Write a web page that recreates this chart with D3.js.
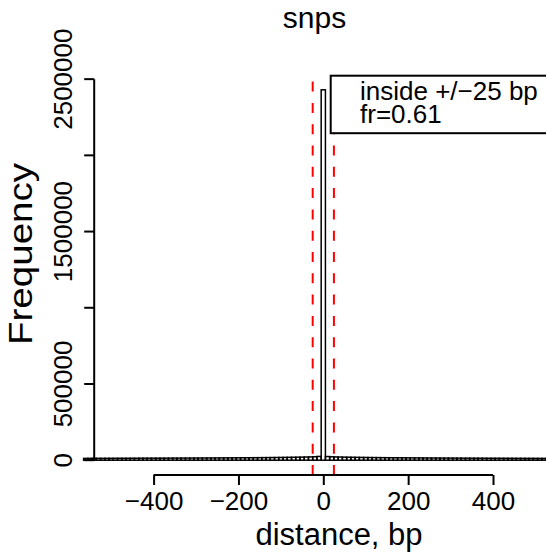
<!DOCTYPE html>
<html><head><meta charset="utf-8">
<script src="https://cdn.jsdelivr.net/npm/d3@7"></script>
<style>body{margin:0;background:#fff}text{font-family:"Liberation Sans",Arial,Helvetica,sans-serif;fill:#000}</style>
</head><body><svg id="c" width="546" height="559"></svg>
<script>
const title = "snps";
const xLabel = "distance, bp";
const yLabel = "Frequency";
const binStart = -565;
const binWidth = 10;
// counts per 10 bp bin, from [-565,-555) to [555,565)
const countsLeft = [
  11800, 11900, 12000, 12100, 12100, 12200, 12300, 12400, 12500, 12500,
  12600, 12700, 12800, 12900, 13000, 13100, 13100, 13200, 13300, 13400,
  13500, 13600, 13700, 13800, 13900, 14000, 14100, 14200, 14300, 14500,
  14600, 14700, 14900, 15000, 15200, 15300, 15500, 15700, 15900, 16100,
  16300, 16500, 16800, 17000, 17300, 17600, 17900, 18300, 18700, 19100,
  19600, 20100, 20700, 21400, 22300, 24500];
const countsCenter = [2430000];
const countsRight = [
  24000, 22100, 21200, 20500, 19900, 19400, 18900, 18500, 18100, 17700,
  17400, 17100, 16800, 16500, 16300, 16000, 15800, 15600, 15400, 15200,
  15000, 14800, 14700, 14500, 14400, 14200, 14100, 13900, 13800, 13700,
  13600, 13400, 13300, 13200, 13100, 13000, 12900, 12800, 12700, 12600,
  12500, 12400, 12300, 12300, 12200, 12100, 12000, 11900, 11900, 11800,
  11700, 11600, 11600, 11500, 11400, 11300];
const counts = countsLeft.concat(countsCenter, countsRight);
const xLimits = [-500, 500];
const xTicks = [-400, -200, 0, 200, 400];
const yTicks = [0, 500000, 1000000, 1500000, 2000000, 2500000];
const yTickLabels = ["0", "500000", "", "1500000", "", "2500000"];
const cutoffs = [-25, 25];
const legendLines = ["inside +/\u221225 bp", "fr=0.61"];

const svg = d3.select("#c");
const xPad = (xLimits[1] - xLimits[0]) * 0.04;
const ymax = d3.max(counts);
const yLo = -0.04 * ymax, yHi = 1.04 * ymax;
const x = d3.scaleLinear().domain([xLimits[0] - xPad, xLimits[1] + xPad]).range([94.2, 552.4]);
const y = d3.scaleLinear().domain([yLo, yHi]).range([475, 75]);

// bars
svg.append("g").selectAll("rect").data(counts).join("rect")
  .attr("x", (d, i) => x(binStart + i * binWidth))
  .attr("width", (d, i) => x(binStart + (i + 1) * binWidth) - x(binStart + i * binWidth))
  .attr("y", d => y(d))
  .attr("height", d => y(0) - y(d))
  .attr("fill", "none").attr("stroke", "#000").attr("stroke-width", 1.5);

// cutoff lines
svg.append("g").selectAll("line").data(cutoffs).join("line")
  .attr("x1", d => x(d)).attr("x2", d => x(d))
  .attr("y1", y(yLo)).attr("y2", y(yHi))
  .attr("stroke", "#ff0000").attr("stroke-width", 2)
  .attr("stroke-dasharray", "10,11.3");

// x axis
const xa = svg.append("g").attr("transform", `translate(0,${y(yLo)})`)
  .call(d3.axisBottom(x).tickValues(xTicks).tickSize(10).tickSizeOuter(0).tickPadding(7)
    .tickFormat(d => d < 0 ? "\u2212" + Math.abs(d) : String(d)));
xa.select(".domain").remove();
xa.selectAll(".tick line").attr("stroke", "#000").attr("stroke-width", 2);
xa.selectAll(".tick text").attr("font-size", 26).attr("font-family", null);
xa.append("line").attr("x1", x(xTicks[0])).attr("x2", x(xTicks[xTicks.length - 1]))
  .attr("stroke", "#000").attr("stroke-width", 2);

// y axis
const yx = x(xLimits[0] - xPad);
const ya = svg.append("g");
ya.append("line").attr("x1", yx).attr("x2", yx)
  .attr("y1", y(yTicks[0])).attr("y2", y(yTicks[yTicks.length - 1]))
  .attr("stroke", "#000").attr("stroke-width", 2);
ya.selectAll("line.t").data(yTicks).join("line").attr("class", "t")
  .attr("x1", yx - 10).attr("x2", yx).attr("y1", d => y(d)).attr("y2", d => y(d))
  .attr("stroke", "#000").attr("stroke-width", 2);
ya.selectAll("text").data(yTicks).join("text")
  .attr("transform", d => `translate(72,${y(d)}) rotate(-90)`)
  .attr("text-anchor", "middle").attr("font-size", 26)
  .text((d, i) => yTickLabels[i]);

// legend
const lg = svg.append("g");
lg.append("rect").attr("x", 330.7).attr("y", 75.7).attr("width", 240).attr("height", 57.5)
  .attr("fill", "#fff").attr("stroke", "#000").attr("stroke-width", 2);
lg.selectAll("text").data(legendLines).join("text")
  .attr("x", 360).attr("y", (d, i) => 100 + i * 23.3)
  .attr("font-size", 26).text(d => d);

// titles
svg.append("text").attr("x", 314.5).attr("y", 28).attr("text-anchor", "middle")
  .attr("font-size", 30).text(title);
svg.append("text").attr("x", 339).attr("y", 545).attr("text-anchor", "middle")
  .attr("font-size", 31).text(xLabel);
svg.append("text").attr("transform", "translate(32,254) rotate(-90)")
  .attr("text-anchor", "middle").attr("font-size", 34)
  .attr("textLength", 182).attr("lengthAdjust", "spacingAndGlyphs").text(yLabel);
</script></body></html>
